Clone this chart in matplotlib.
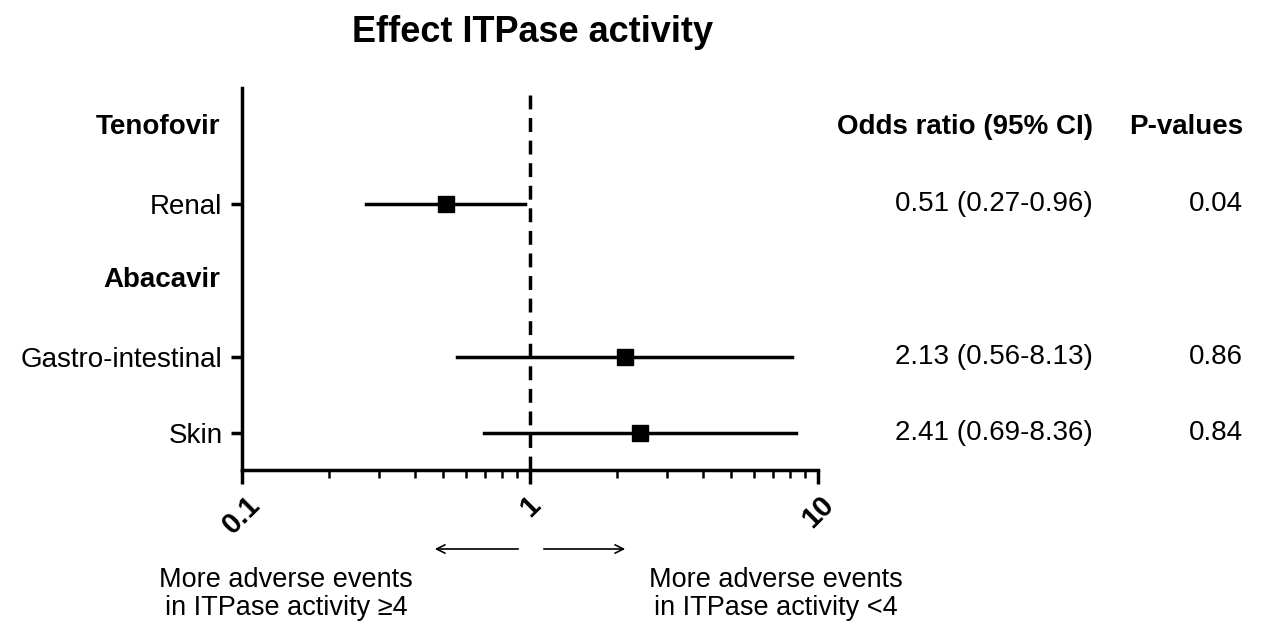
import matplotlib.pyplot as plt
import matplotlib.patches as mpatches
import numpy as np

plt.rcParams['font.family'] = ['Liberation Sans', 'DejaVu Sans']

labels = ["Tenofovir", "Renal", "Abacavir", "Gastro-intestinal", "Skin"]
is_header = [True, False, True, False, False]
odds = [None, 0.51, None, 2.13, 2.41]
lo = [None, 0.27, None, 0.56, 0.69]
hi = [None, 0.96, None, 8.13, 8.36]
or_text = ["", "0.51 (0.27-0.96)", "", "2.13 (0.56-8.13)", "2.41 (0.69-8.36)"]
p_text = ["", "0.04", "", "0.86", "0.84"]

W, H = 1261, 629
fig = plt.figure(figsize=(W / 100, H / 100), dpi=100)
ax = fig.add_axes([242 / W, 1 - 470 / H, 576 / W, 382 / H])

ypos = np.arange(len(labels), 0, -1)
for y, o, l, h in zip(ypos, odds, lo, hi):
    if o is None:
        continue
    ax.plot([l, h], [y, y], color="black", lw=2.5)
    ax.plot(o, y, marker="s", color="black", ms=11)

ax.plot([1, 1], [0.52, 5.51], color="black", ls="--", lw=2.5, dashes=(4, 2.5), clip_on=False)
ax.set_xscale("log")
ax.set_xlim(0.1, 10)
ax.set_ylim(0.52, 5.51)
ax.set_xticks([0.1, 1, 10])
ax.set_xticklabels(["0.1", "1", "10"], rotation=45, fontsize=21, fontweight="bold")
ax.tick_params(axis="x", which="major", length=10, width=2.5, pad=5)
ax.tick_params(axis="x", which="minor", length=6, width=1.8)
tick_y = [y for y, hd in zip(ypos, is_header) if not hd]
ax.set_yticks(tick_y)
ax.set_yticklabels([lab for lab, hd in zip(labels, is_header) if not hd], fontsize=20)
ax.tick_params(axis="y", length=8, width=2.5, pad=6)
for y, lab, hd in zip(ypos, labels, is_header):
    if hd:
        ax.text(-0.038, y, lab, transform=ax.get_yaxis_transform(), ha="right",
                va="center", fontsize=20, fontweight="bold")
for s in ["top", "right"]:
    ax.spines[s].set_visible(False)
for s in ["left", "bottom"]:
    ax.spines[s].set_linewidth(2.5)

tr = ax.get_yaxis_transform()
fx = lambda px: (px - 242) / 576
ax.text(fx(1093), 5, "Odds ratio (95% CI)", transform=tr, ha="right", va="center",
        fontsize=20, fontweight="bold", clip_on=False)
ax.text(fx(1243), 5, "P-values", transform=tr, ha="right", va="center",
        fontsize=20, fontweight="bold", clip_on=False)
for y, t, p in zip(ypos, or_text, p_text):
    ax.text(fx(1093), y, t, transform=tr, ha="right", va="center", fontsize=20, clip_on=False)
    ax.text(fx(1243), y, p, transform=tr, ha="right", va="center", fontsize=20, clip_on=False)

fig.text(533 / W, 1 - 32 / H, "Effect ITPase activity", ha="center", va="center",
         fontsize=26, fontweight="bold")
fig.patches.append(mpatches.FancyArrowPatch(
    (521 / W, 1 - 549 / H), (432 / W, 1 - 549 / H), transform=fig.transFigure,
    arrowstyle="->", mutation_scale=15, lw=1.2, color="black"))
fig.patches.append(mpatches.FancyArrowPatch(
    (541 / W, 1 - 549 / H), (628 / W, 1 - 549 / H), transform=fig.transFigure,
    arrowstyle="->", mutation_scale=15, lw=1.2, color="black"))
fig.text(286 / W, 1 - 594 / H, "More adverse events\nin ITPase activity \u22654", ha="center",
         va="center", fontsize=19.5, linespacing=1.1)
fig.text(776 / W, 1 - 594 / H, "More adverse events\nin ITPase activity <4", ha="center",
         va="center", fontsize=19.5, linespacing=1.1)

fig.savefig("out.png", dpi=100)
